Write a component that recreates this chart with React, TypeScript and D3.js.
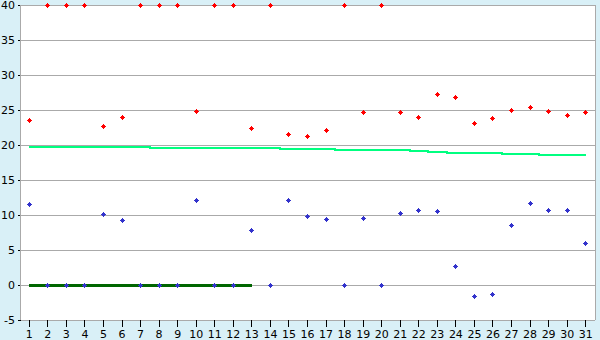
import React from "react";
import * as d3 from "d3";

const categories = Array.from({ length: 31 }, (_, i) => String(i + 1));
const redValues = [23.5, 40, 40, 40, 22.7, 24.0, 40, 40, 40, 24.8, 40, 40, 22.4, 40, 21.5, 21.25, 22.1, 40, 24.67, 40, 24.67, 23.95, 27.25, 26.8, 23.1, 23.8, 24.95, 25.38, 24.8, 24.25, 24.67];
const blueValues = [11.52, 0, 0, 0, 10.1, 9.2, 0, 0, 0, 12.1, 0, 0, 7.81, 0, 12.1, 9.81, 9.4, 0, 9.52, 0, 10.24, 10.67, 10.52, 2.67, -1.62, -1.33, 8.52, 11.67, 10.67, 10.67, 5.95];
const trendValues = [19.86, 19.86, 19.86, 19.86, 19.86, 19.86, 19.86, 19.67, 19.67, 19.67, 19.67, 19.67, 19.67, 19.67, 19.52, 19.52, 19.52, 19.38, 19.38, 19.38, 19.38, 19.24, 19.1, 18.95, 18.95, 18.95, 18.81, 18.81, 18.67, 18.67, 18.67];
const zeroValues = [0, 0, 0, 0, 0, 0, 0, 0, 0, 0, 0, 0, 0];
const yTicks = [-5, 0, 5, 10, 15, 20, 25, 30, 35, 40];

const W = 600, H = 340;
const L = 20.5, R = 595, T = 5, B = 320;

function marker(x: number, y: number) {
  const px = Math.floor(x) + 0.5;
  const py = Math.floor(y) + 0.5;
  const sx = px - 0.5, sy = py - 2.5;
  return `M${sx},${sy}h1v1h1v1h1v1h-1v1h-1v1h-1v-1h-1v-1h-1v-1h1v-1h1z`;
}

export default function App() {
  const x = d3.scaleBand<string>().domain(categories).range([20, 595]);
  const xc = (c: string) => (x(c) as number) + x.bandwidth() / 2;
  const y = d3.scaleLinear().domain([-5, 40]).range([B, T]);
  const stepLine = d3.line<number>().x((_, i) => xc(categories[i])).y((d) => Math.round(y(d)) + 1).curve(d3.curveStep);
  const flatLine = d3.line<number>().x((_, i) => xc(categories[i])).y((d) => y(d));
  const font = "DejaVu Sans, Verdana, sans-serif";
  return (
    <svg width={W} height={H} style={{ position: "absolute", left: 0, top: 0 }} fontFamily={font}>
      <rect x={0} y={0} width={W} height={H} fill="#d9f0f7" />
      <rect x={L} y={T} width={R - L} height={B - T} fill="#ffffff" />
      {yTicks.map((t) => (
        <g key={t}>
          <line x1={L} x2={R} y1={Math.round(y(t)) + 0.5} y2={Math.round(y(t)) + 0.5} stroke="#aaaaaa" strokeWidth={1} shapeRendering="crispEdges" />
          <line x1={L - 3} x2={L} y1={Math.round(y(t)) + 0.5} y2={Math.round(y(t)) + 0.5} stroke="#000" strokeWidth={1} shapeRendering="crispEdges" />
          <text x={15} y={y(t)} textAnchor="end" dominantBaseline="central" fontSize={11} fill="#000">{t}</text>
        </g>
      ))}
      <line x1={L} x2={L} y1={T} y2={B} stroke="#aaaaaa" shapeRendering="crispEdges" />
      <line x1={R + 0.5} x2={R + 0.5} y1={T} y2={B} stroke="#aaaaaa" shapeRendering="crispEdges" />
      {categories.map((c) => (
        <g key={c}>
          <line x1={Math.floor(xc(c)) + 0.5} x2={Math.floor(xc(c)) + 0.5} y1={B} y2={B + 7} stroke="#000" shapeRendering="crispEdges" />
          <text x={xc(c)} y={338} textAnchor="middle" fontSize={11} fill="#000">{c}</text>
        </g>
      ))}
      <path d={stepLine(trendValues) || ""} fill="none" stroke="#00ff80" strokeWidth={2} shapeRendering="crispEdges" />
      <path d={flatLine(zeroValues) || ""} fill="none" stroke="#006600" strokeWidth={3} shapeRendering="crispEdges" />
      {redValues.map((v, i) => (
        <path key={"r" + i} d={marker(xc(categories[i]), y(v))} fill="#ff0000" shapeRendering="crispEdges" />
      ))}
      {blueValues.map((v, i) => (
        <path key={"b" + i} d={marker(xc(categories[i]), y(v))} fill="#3333cc" shapeRendering="crispEdges" />
      ))}
    </svg>
  );
}
